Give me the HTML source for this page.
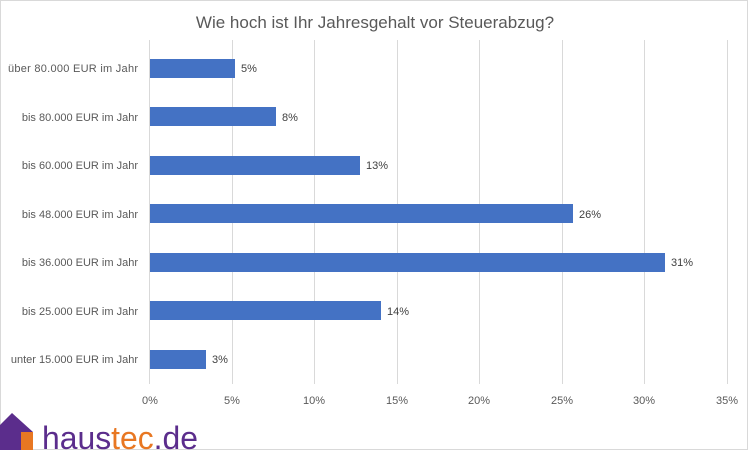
<!DOCTYPE html>
<html><head><meta charset="utf-8"><style>
body{margin:0;background:#fff}
svg{display:block}
text{font-family:"Liberation Sans",sans-serif}
</style></head><body>
<svg width="750" height="450" viewBox="0 0 750 450" xmlns="http://www.w3.org/2000/svg">
<rect x="0.5" y="0.5" width="747" height="449" fill="#fff" stroke="#d9d9d9"/>
<text x="375" y="28" text-anchor="middle" font-size="17" fill="#595959">Wie hoch ist Ihr Jahresgehalt vor Steuerabzug?</text>
<g stroke="#d9d9d9" stroke-width="1">
<line x1="149.5" y1="40" x2="149.5" y2="384"/>
<line x1="232.5" y1="40" x2="232.5" y2="384"/>
<line x1="314.5" y1="40" x2="314.5" y2="384"/>
<line x1="397.5" y1="40" x2="397.5" y2="384"/>
<line x1="479.5" y1="40" x2="479.5" y2="384"/>
<line x1="562.5" y1="40" x2="562.5" y2="384"/>
<line x1="644.5" y1="40" x2="644.5" y2="384"/>
<line x1="727.5" y1="40" x2="727.5" y2="384"/>
</g>
<g fill="#4472c4">
<rect x="150" y="59" width="85" height="19"/>
<rect x="150" y="107" width="126" height="19"/>
<rect x="150" y="156" width="210" height="19"/>
<rect x="150" y="204" width="423" height="19"/>
<rect x="150" y="253" width="515" height="19"/>
<rect x="150" y="301" width="231" height="19"/>
<rect x="150" y="350" width="56" height="19"/>
</g>
<g font-size="11" fill="#404040">
<text x="241" y="72">5%</text>
<text x="282" y="121">8%</text>
<text x="366" y="169">13%</text>
<text x="579" y="218">26%</text>
<text x="671" y="266">31%</text>
<text x="387" y="315">14%</text>
<text x="212" y="363">3%</text>
</g>
<g font-size="11" fill="#595959" text-anchor="end">
<text x="138" y="72" textLength="130">über 80.000 EUR im Jahr</text>
<text x="138" y="121">bis 80.000 EUR im Jahr</text>
<text x="138" y="169">bis 60.000 EUR im Jahr</text>
<text x="138" y="218">bis 48.000 EUR im Jahr</text>
<text x="138" y="266">bis 36.000 EUR im Jahr</text>
<text x="138" y="315">bis 25.000 EUR im Jahr</text>
<text x="138" y="363">unter 15.000 EUR im Jahr</text>
</g>
<g font-size="11" fill="#595959" text-anchor="middle">
<text x="150" y="404">0%</text>
<text x="232" y="404">5%</text>
<text x="314" y="404">10%</text>
<text x="397" y="404">15%</text>
<text x="479" y="404">20%</text>
<text x="562" y="404">25%</text>
<text x="644" y="404">30%</text>
<text x="727" y="404">35%</text>
</g>
<polygon points="0,425 12,413 33,432 33,450 0,450" fill="#5b2d8c"/>
<rect x="21" y="432" width="12" height="18" fill="#e87722"/>
<text x="42" y="449" font-size="32" fill="#5b2d8c" textLength="156" lengthAdjust="spacingAndGlyphs">haus<tspan fill="#e87722">tec</tspan>.de</text>
</svg>
</body></html>
